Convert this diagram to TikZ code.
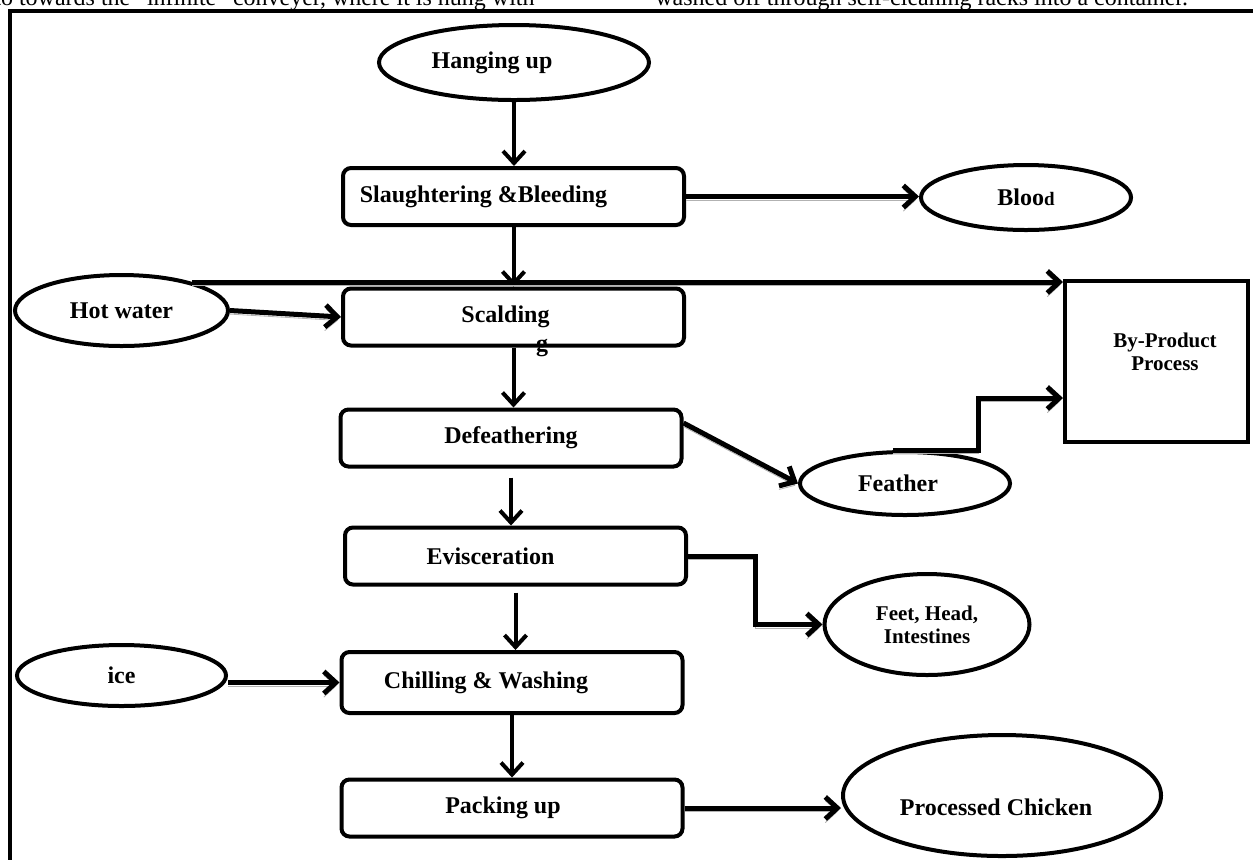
\documentclass[tikz,border=0pt]{standalone}
\usepackage{fontspec}
\setmainfont{Liberation Serif}
\usetikzlibrary{arrows.meta,shapes.geometric}

\begin{document}
\begin{tikzpicture}[x=0.5pt,y=-0.5pt,
    stepbox/.style={draw,line width=2pt,rounded corners=4pt,minimum width=170.5pt,minimum height=28.5pt,inner sep=0pt,font=\fontsize{12}{14}\selectfont\bfseries},
    oval/.style={draw,ellipse,line width=2pt,inner sep=0pt,font=\fontsize{12}{14}\selectfont\bfseries},
    arr/.style={line width=2pt,-{Straight Barb[length=6pt,width=11pt]}},
    grayshadow/.style={line width=2.5pt,preaction={draw=gray!60,transform canvas={yshift=-1.8pt}}}]
            \useasboundingbox (0,0) rectangle (1253,859);
            \clip (0,0) rectangle (1253,859);

            % Page text and frame
            \node[anchor=base west,inner sep=0pt,font=\fontsize{12}{14}\selectfont] (note1) at (-6,5) {to towards the “infinite” conveyer, where it is hung with};
            \node[anchor=base west,inner sep=0pt,font=\fontsize{12}{14}\selectfont] (note2) at (655,5) {washed off through self-cleaning racks into a container.};
            \draw[line width=2pt] (10,900) -- (10,11) -- (1300,11);

            % Process steps
            \node[oval,minimum width=135pt,minimum height=37.5pt] (hang) at (514,62.5) {\hspace*{-22pt}Hanging up};
            \node[stepbox] (slaughter) at (513.5,196.5) {\hspace*{-30pt}Slaughtering \&Bleeding};
            \node[stepbox] (scald) at (513.5,317) {\hspace*{-8pt}Scalding};
            \node[anchor=base,inner sep=0pt,font=\fontsize{12}{14}\selectfont\bfseries] (stray) at (542,351) {g};
            \node[stepbox] (defeather) at (511,438) {Defeathering};
            \node[stepbox] (evisc) at (515.5,556) {\hspace*{-25pt}Evisceration};
            \node[stepbox,minimum height=30.5pt] (chill) at (512,682.5) {\hspace*{-26pt}Chilling \& Washing};
            \node[stepbox] (pack) at (512,808) {\hspace*{-9pt}Packing up};

            % Inputs and outputs
            \node[oval,minimum width=106.5pt,minimum height=35.5pt] (hot) at (121.5,310.5) {Hot water};
            \node[oval,minimum width=104.5pt,minimum height=30.5pt] (ice) at (121.5,675.5) {\raisebox{-2pt}{ice}};
            \node[oval,minimum width=105pt,minimum height=32.5pt] (blood) at (1026,197.5) {Bloo{\fontsize{9.5}{11}\selectfont d}};
            \node[oval,minimum width=105pt,minimum height=31.5pt] (feather) at (905,483.5) {\hspace*{-7pt}Feather};
            \node[oval,minimum width=102.5pt,minimum height=50.5pt,align=center,font=\fontsize{10.5}{11.5}\selectfont\bfseries] (feet) at (927,624.5) {Feet, Head,\\Intestines};
            \node[oval,minimum width=159pt,minimum height=60.5pt,label={[font=\fontsize{12}{14}\selectfont\bfseries,xshift=-3pt,yshift=-5.75pt]center:Processed Chicken}] (proc) at (1002,795.5) {};
            \node[draw,line width=2pt,minimum width=91.5pt,minimum height=80.5pt,label={[font=\fontsize{10.5}{11.5}\selectfont\bfseries,align=center,xshift=4.25pt,yshift=5pt]center:By-Product\\Process}] (byprod) at (1156.5,361.5) {};

            % Main line
            \draw[arr] (hang.south) -- (hang.south |- slaughter.north);
            \draw[arr] (slaughter.south) -- (slaughter.south |- scald.north);
            \draw[arr] (scald.south) -- (scald.south |- defeather.north);
            \draw[arr,shorten <=4.5pt] (defeather.south) -- (defeather.south |- evisc.north);
            \draw[arr,shorten <=3pt] (evisc.south) -- (evisc.south |- chill.north);
            \draw[arr] (chill.south) -- (chill.south |- pack.north);

            % Side streams
            \draw[arr,grayshadow] (slaughter.east) -- (slaughter.east -| blood.west);
            \draw[arr,grayshadow] (hot.22) -- (hot.22 -| byprod.west);
            \draw[arr,grayshadow] (hot.east) -- (scald.west);
            \draw[arr,grayshadow] ([yshift=7.5pt]defeather.east) -- (feather.west);
            \draw[arr,grayshadow] ([xshift=-6pt]feather.north) -- ++(42.5pt,0) |- ([yshift=-18.25pt]byprod.west);
            \draw[arr,grayshadow] (evisc.east) -- ++(33.5pt,0) |- (feet.west);
            \draw[arr,grayshadow] (chill.west -| ice.east) -- (chill.west);
            \draw[arr,grayshadow] (pack.east) -- (pack.east -| proc.west);
          \end{tikzpicture}
\end{document}
